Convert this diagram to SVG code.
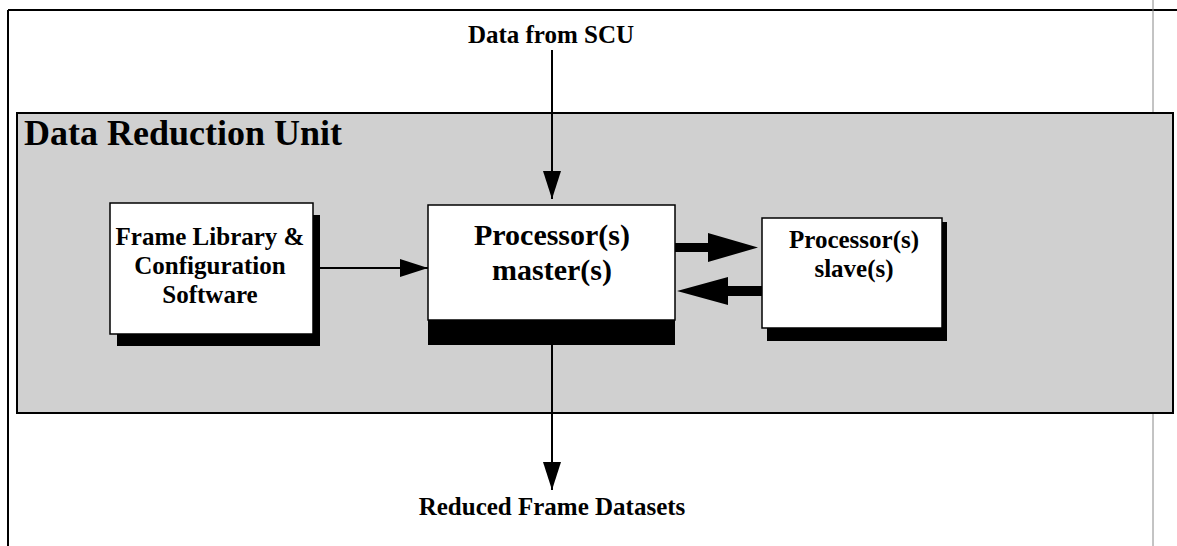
<svg xmlns="http://www.w3.org/2000/svg" width="1177" height="546" viewBox="0 0 1177 546">
<style>
text{font-family:"Liberation Serif","Times New Roman",serif;font-weight:bold;fill:#000;text-anchor:middle}
.box{fill:#fff;stroke:#000;stroke-width:1.5}
.shadow{fill:#000}
.line{stroke:#000;stroke-width:2;fill:none}
.head{fill:#000}
</style>
<defs>
<marker id="ah" markerUnits="userSpaceOnUse" markerWidth="30" markerHeight="18" refX="28" refY="9" orient="auto">
<path d="M0,0 L28,9 L0,18 Z" fill="#000"/>
</marker>
</defs>
<rect width="1177" height="546" fill="#fff"/>
<g id="frame">
<line x1="8" y1="10" x2="1177" y2="10" stroke="#000" stroke-width="2"/>
<line x1="8" y1="10" x2="8" y2="546" stroke="#000" stroke-width="2"/>
<line x1="1153" y1="0" x2="1153" y2="546" stroke="#888" stroke-width="1"/>
</g>
<g id="dru">
<rect x="17" y="113" width="1156" height="300" fill="#d0d0d0" stroke="#000" stroke-width="2"/>
<text x="183" y="145" font-size="36">Data Reduction Unit</text>
</g>
<g id="labels">
<text x="551" y="43" font-size="25">Data from SCU</text>
<text x="552" y="515" font-size="25">Reduced Frame Datasets</text>
</g>
<g id="frameLib">
<rect class="shadow" x="117" y="215" width="203" height="131"/>
<rect class="box" x="110" y="203" width="203" height="131"/>
<text x="210" y="245" font-size="25">Frame Library &amp;</text>
<text x="210" y="274" font-size="25">Configuration</text>
<text x="210" y="303" font-size="25">Software</text>
</g>
<g id="master">
<rect class="shadow" x="428" y="215" width="247" height="130"/>
<rect class="box" x="428" y="205" width="247" height="115"/>
<text x="552" y="245" font-size="30">Processor(s)</text>
<text x="552" y="280" font-size="30">master(s)</text>
</g>
<g id="slave">
<rect class="shadow" x="767" y="222" width="180" height="119"/>
<rect class="box" x="762" y="218" width="180" height="110"/>
<text x="854" y="248" font-size="25">Processor(s)</text>
<text x="854" y="277" font-size="25">slave(s)</text>
</g>
<g id="connectors">
<line class="line" x1="552" y1="50" x2="552" y2="199" marker-end="url(#ah)"/>
<line class="line" x1="552" y1="345" x2="552" y2="490" marker-end="url(#ah)"/>
<line class="line" x1="313" y1="268" x2="428" y2="268" marker-end="url(#ah)"/>
<path class="head" d="M675,243 L708,243 L708,233 L758,247.5 L708,262 L708,252 L675,252 Z"/>
<path class="head" d="M762,286 L728,286 L728,277 L677,291 L728,305 L728,296 L762,296 Z"/>
</g>
</svg>
